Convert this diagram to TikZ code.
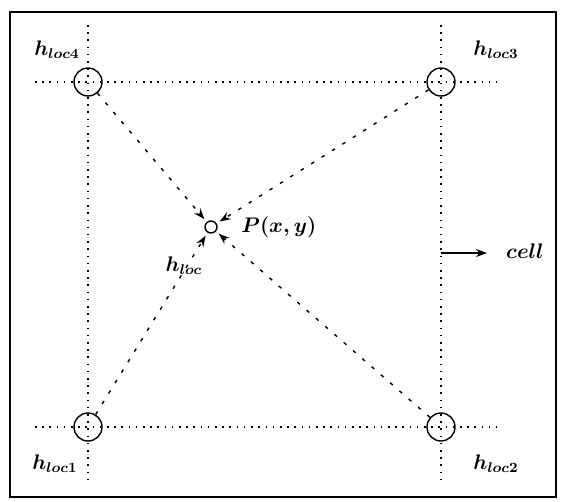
\documentclass[tikz,border=0pt]{standalone}
\usepackage{amsmath,amssymb}
\usepackage{tikz}
\usetikzlibrary{arrows.meta,positioning}

\begin{document}
\begin{tikzpicture}[
    x=0.02cm, y=-0.02cm,
    grid/.style={line width=0.9pt, dash pattern=on 0.9pt off 3.2pt},
    hnode/.style={circle, draw, thick, minimum size=0.56cm, inner sep=0pt},
    pnode/.style={circle, draw, thick, minimum size=0.24cm, inner sep=0pt},
    lbl/.style={font=\large\boldmath},
    arrow/.style={-{Stealth[length=2.2mm,width=1.6mm]}, thick, dash pattern=on 2pt off 5pt, shorten >=2pt}
]
    \useasboundingbox (0,0) rectangle (561,501);
    \draw [line width=1.2pt] (10,12) rectangle (556,497);

    % grid lines through the four sample points
    \draw [grid] (88,25) -- (88,483);
    \draw [grid] (441,25) -- (441,483);
    \draw [grid] (35,82) -- (497,82);
    \draw [grid] (35,427) -- (497,427);

    \node [hnode] (h4) at (88,82) {};
    \node [hnode] (h3) at (441,82) {};
    \node [hnode] (h1) at (88,427) {};
    \node [hnode] (h2) at (441,427) {};
    \node [pnode] (p) at (211,227) {};

    \node [lbl] (l4) at (57,50) {$h_{loc4}$};
    \node [lbl] (l3) at (496,50) {$h_{loc3}$};
    \node [lbl] (l1) at (55,464) {$h_{loc1}$};
    \node [lbl] (l2) at (496,464) {$h_{loc2}$};
    \node [lbl, right=0.35cm of p] (pxy) {$P(x,y)$};
    \node [lbl] (hl) at (184,266) {$h_{loc}$};

    \draw [arrow] (h4) -- (p);
    \draw [arrow] (h3) -- (p);
    \draw [arrow] (h1) -- (p);
    \draw [arrow] (h2) -- (p);

    \coordinate (c) at (441,253);
    \coordinate (ce) at (487,253);
    \node [lbl, anchor=west] (cell) at (500,251) {$cell$};
    \draw [-{Stealth[length=2.2mm,width=1.6mm]}, thick] (c) -- (ce);
\end{tikzpicture}
\end{document}
